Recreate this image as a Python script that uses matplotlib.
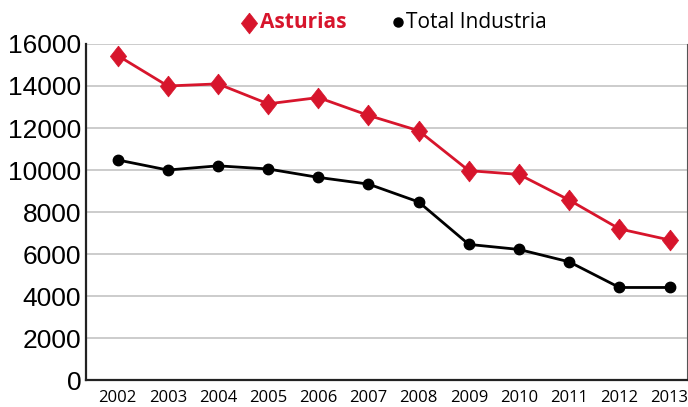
import numpy as np
import matplotlib.pyplot as plt
from matplotlib.lines import Line2D

years = [2002, 2003, 2004, 2005, 2006, 2007, 2008, 2009, 2010, 2011, 2012, 2013]
asturias = [15450, 14000, 14100, 13150, 13450, 12600, 11870, 9970, 9790, 8570, 7200, 6670]
total_industria = [10480, 10000, 10200, 10050, 9650, 9330, 8480, 6460, 6220, 5630, 4410, 4410]
yticks = [0, 2000, 4000, 6000, 8000, 10000, 12000, 14000, 16000]

red = '#d7152c'
x = np.arange(len(years))
# a diamond a bit wider than matplotlib's thin 'd'
diamond = [(0, 1), (0.78, 0), (0, -1), (-0.78, 0), (0, 1)]

fig = plt.figure(figsize=(6.88, 4.07), dpi=100)
ax = fig.add_axes([0.125, 0.066, 0.873, 0.826])

ax.plot(x, asturias, color=red, lw=2.0, marker=diamond, ms=15, mec=red, mew=0.5, zorder=3)
ax.plot(x, total_industria, color='black', lw=2.0, marker='o', ms=7.5, zorder=3)

ax.set_xlim(-0.63, len(years) - 1 + 0.34)
ax.set_ylim(0, 16000)
ax.set_yticks(yticks)
ax.set_xticks(x)
ax.set_xticklabels([str(y) for y in years])
ax.yaxis.grid(True, color='#c4c4c4', lw=1.2)
ax.set_axisbelow(True)

for s in ['left', 'bottom']:
    ax.spines[s].set_color('#222222')
    ax.spines[s].set_linewidth(1.6)
ax.spines['top'].set_visible(False)
ax.spines['right'].set_color('#555555')
ax.spines['right'].set_linewidth(0.8)

ax.tick_params(length=0)
ax.tick_params(axis='y', pad=3.5)
ax.tick_params(axis='x', pad=7)
for lab in ax.get_yticklabels():
    lab.set_fontfamily('Liberation Sans')
    lab.set_fontsize(19)
for lab in ax.get_xticklabels():
    lab.set_fontfamily('Open Sans')
    lab.set_fontsize(12)

# legend drawn by hand
fig.add_artist(Line2D([249 / 688], [1 - 23 / 407], marker=diamond, color=red, ms=15, mew=0.5, ls=''))
fig.text(260 / 688, 1 - 23 / 407, 'Asturias', color=red, fontsize=15, fontweight='bold',
         fontfamily='Open Sans', va='center', ha='left')
fig.add_artist(Line2D([398 / 688], [1 - 22 / 407], marker='o', color='black', ms=6.5, ls=''))
fig.text(406 / 688, 1 - 23 / 407, 'Total Industria', color='black', fontsize=15,
         fontfamily='Open Sans', va='center', ha='left')

fig.savefig('out.png', dpi=100)
